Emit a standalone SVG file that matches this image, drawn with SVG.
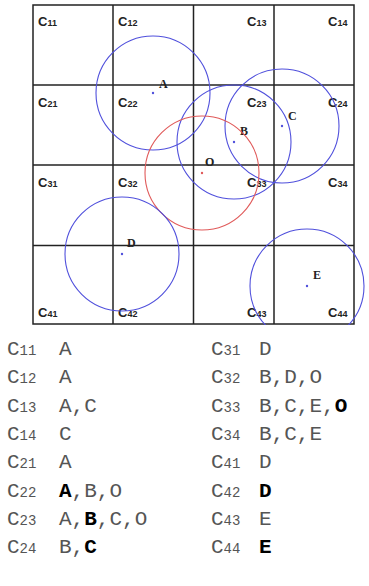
<svg xmlns="http://www.w3.org/2000/svg" width="369" height="586" viewBox="0 0 369 586">
<style>
.grid{stroke:#222;stroke-width:1.5;fill:none}
.cb{fill:none;stroke:#5050dc;stroke-width:1.1}
.cr{fill:none;stroke:#e05a5a;stroke-width:1.1}
.dotb{fill:#5050dc}
.dotr{fill:#e05a5a}
.cl{font-family:"Liberation Sans",Arial,sans-serif;font-weight:bold;font-size:13px;fill:#222}
.cl tspan.s{font-size:9px}
.pl{font-family:"Liberation Serif","Times New Roman",serif;font-weight:bold;font-size:12px;fill:#222}
.ls{font-family:"Liberation Mono","Courier New",monospace;font-size:21px;fill:#555}
.ls tspan.s{font-size:14px}
.ls tspan.b{font-weight:bold;fill:#000}
</style>
<defs>
<clipPath id="clipE"><rect x="0" y="0" width="369" height="325"/></clipPath>
</defs>
<rect width="369" height="586" fill="#fff"/>
<g id="grid">
<rect class="grid" x="33" y="5" width="321" height="319"/>
<line class="grid" x1="113" y1="5" x2="113" y2="324"/>
<line class="grid" x1="193.5" y1="5" x2="193.5" y2="324"/>
<line class="grid" x1="274" y1="5" x2="274" y2="324"/>
<line class="grid" x1="33" y1="85" x2="354" y2="85"/>
<line class="grid" x1="33" y1="165" x2="354" y2="165"/>
<line class="grid" x1="33" y1="245.5" x2="354" y2="245.5"/>
</g>
<g id="cell-labels">
<text class="cl" x="38" y="26">C<tspan class="s">11</tspan></text>
<text class="cl" x="118" y="26">C<tspan class="s">12</tspan></text>
<text class="cl" x="247" y="26">C<tspan class="s">13</tspan></text>
<text class="cl" x="328" y="26">C<tspan class="s">14</tspan></text>
<text class="cl" x="38" y="107">C<tspan class="s">21</tspan></text>
<text class="cl" x="118" y="107">C<tspan class="s">22</tspan></text>
<text class="cl" x="247" y="107">C<tspan class="s">23</tspan></text>
<text class="cl" x="328" y="107">C<tspan class="s">24</tspan></text>
<text class="cl" x="38" y="187">C<tspan class="s">31</tspan></text>
<text class="cl" x="118" y="187">C<tspan class="s">32</tspan></text>
<text class="cl" x="247" y="187">C<tspan class="s">33</tspan></text>
<text class="cl" x="328" y="187">C<tspan class="s">34</tspan></text>
<text class="cl" x="38" y="317">C<tspan class="s">41</tspan></text>
<text class="cl" x="118" y="317">C<tspan class="s">42</tspan></text>
<text class="cl" x="247" y="317">C<tspan class="s">43</tspan></text>
<text class="cl" x="328" y="317">C<tspan class="s">44</tspan></text>
</g>
<g id="point-A">
<circle class="cb" cx="153" cy="93" r="57"/>
<circle class="dotb" cx="153" cy="93" r="1.2"/>
<text class="pl" x="159" y="88">A</text>
</g>
<g id="point-B">
<circle class="cb" cx="234" cy="142" r="57"/>
<circle class="dotb" cx="234" cy="142" r="1.2"/>
<text class="pl" x="240" y="135">B</text>
</g>
<g id="point-C">
<circle class="cb" cx="282" cy="126" r="57"/>
<circle class="dotb" cx="282" cy="126" r="1.2"/>
<text class="pl" x="288" y="120">C</text>
</g>
<g id="point-O">
<circle class="cr" cx="202" cy="173" r="57"/>
<circle class="dotr" cx="202" cy="173" r="1.2"/>
<text class="pl" x="205" y="166">O</text>
</g>
<g id="point-D">
<circle class="cb" cx="122" cy="254" r="57"/>
<circle class="dotb" cx="122" cy="254" r="1.2"/>
<text class="pl" x="127" y="247">D</text>
</g>
<g id="point-E">
<circle class="cb" cx="307" cy="286" r="57" clip-path="url(#clipE)"/>
<circle class="dotb" cx="307" cy="286" r="1.2"/>
<text class="pl" x="313" y="279">E</text>
</g>
<g id="list-left">
<text class="ls" x="7" y="355">C<tspan class="s">11</tspan><tspan x="59">A</tspan></text>
<text class="ls" x="7" y="383.3">C<tspan class="s">12</tspan><tspan x="59">A</tspan></text>
<text class="ls" x="7" y="411.6">C<tspan class="s">13</tspan><tspan x="59">A,C</tspan></text>
<text class="ls" x="7" y="440">C<tspan class="s">14</tspan><tspan x="59">C</tspan></text>
<text class="ls" x="7" y="468.3">C<tspan class="s">21</tspan><tspan x="59">A</tspan></text>
<text class="ls" x="7" y="496.6">C<tspan class="s">22</tspan><tspan x="59" class="b">A</tspan>,B,O</text>
<text class="ls" x="7" y="525">C<tspan class="s">23</tspan><tspan x="59">A,</tspan><tspan class="b">B</tspan>,C,O</text>
<text class="ls" x="7" y="553.3">C<tspan class="s">24</tspan><tspan x="59">B,</tspan><tspan class="b">C</tspan></text>
</g>
<g id="list-right">
<text class="ls" x="211" y="355">C<tspan class="s">31</tspan><tspan x="259">D</tspan></text>
<text class="ls" x="211" y="383.3">C<tspan class="s">32</tspan><tspan x="259">B,D,O</tspan></text>
<text class="ls" x="211" y="411.6">C<tspan class="s">33</tspan><tspan x="259">B,C,E,</tspan><tspan class="b">O</tspan></text>
<text class="ls" x="211" y="440">C<tspan class="s">34</tspan><tspan x="259">B,C,E</tspan></text>
<text class="ls" x="211" y="468.3">C<tspan class="s">41</tspan><tspan x="259">D</tspan></text>
<text class="ls" x="211" y="496.6">C<tspan class="s">42</tspan><tspan x="259" class="b">D</tspan></text>
<text class="ls" x="211" y="525">C<tspan class="s">43</tspan><tspan x="259">E</tspan></text>
<text class="ls" x="211" y="553.3">C<tspan class="s">44</tspan><tspan x="259" class="b">E</tspan></text>
</g>
</svg>
